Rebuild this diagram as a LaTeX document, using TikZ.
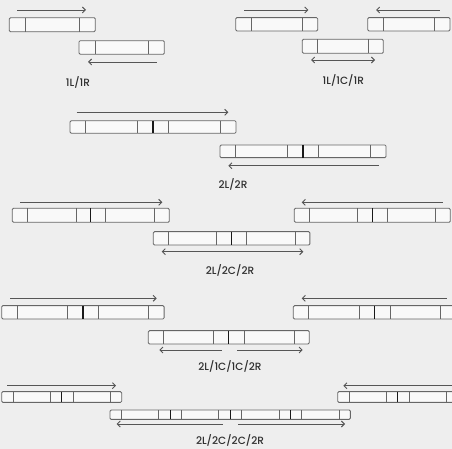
\documentclass[tikz,border=0pt]{standalone}
\usepackage{fontspec}
\newfontfamily\labelfont{Poppins}[UprightFont={* Medium}]
\usetikzlibrary{arrows.meta,calc}

\definecolor{bggray}{HTML}{EEEEEE}
\definecolor{boxfill}{HTML}{F9F9F9}
\definecolor{edgegray}{HTML}{666666}
\definecolor{arrowgray}{HTML}{555555}
\definecolor{textgray}{HTML}{2E2E2E}

% segmented repeat box: name, left x, centre y, units, unit width, height
\newcommand{\repbox}[6]{%
  \node[repbox, minimum width={#4*#5*1pt}, minimum height=#6pt, anchor=west] (#1) at (#2,#3) {};
  \foreach \k in {1,...,#4}{
    \pgfmathsetmacro\xa{#2+(\k-1)*#5+0.19*#5}
    \pgfmathsetmacro\xb{#2+\k*#5-0.19*#5}
    \pgfmathsetmacro\xj{#2+(\k-1)*#5}
    \draw[cut] (\xa,{#3-#6/2}) -- (\xa,{#3+#6/2});
    \draw[cut] (\xb,{#3-#6/2}) -- (\xb,{#3+#6/2});
    \ifnum\k>1 \draw[joint] (\xj,{#3-#6/2}) -- (\xj,{#3+#6/2}); \fi
  }%
}
% direction arrow between two named coordinates: name, x from, x to, y, tips
\newcommand{\dirarrow}[5]{%
  \coordinate (#1s) at (#2,#4);
  \coordinate (#1e) at (#3,#4);
  \draw[arrow, #5] (#1s) -- (#1e);
}

\begin{document}
\begin{tikzpicture}[
  x=1pt, y=-1pt,
  repbox/.style={draw=edgegray, fill=boxfill, line width=0.85pt, rounded corners=1.2pt, inner sep=0pt, outer sep=0pt},
  cut/.style={draw=edgegray, line width=0.75pt},
  joint/.style={draw=black!90, line width=1.2pt},
  arrow/.style={draw=arrowgray, line width=0.9pt},
  fwd/.style={-{Straight Barb[length=3pt,width=6pt]}},
  rev/.style={{Straight Barb[length=3pt,width=6pt]}-},
  both/.style={{Straight Barb[length=3pt,width=6pt]}-{Straight Barb[length=3pt,width=6pt]}},
  caption/.style={font=\labelfont\fontsize{10.5}{12}\selectfont, text=textgray, inner sep=0pt}
]
\fill[bggray] (0,0) rectangle (452,449);
\useasboundingbox (0,0) rectangle (452,449);
\clip (0,0) rectangle (452,449);

% 1L/1R
\repbox{ta}{9.3}{24.7}{1}{86}{14}
\repbox{tb}{79}{47.5}{1}{85.3}{13.6}
\dirarrow{ara}{17}{86}{10}{fwd}
\dirarrow{arb}{88}{156.7}{62}{rev}
\node[caption] (lab1) at (78,82) {1L/1R};

% 1L/1C/1R
\repbox{ua}{235.7}{24.3}{1}{82}{13.3}
\repbox{uc}{367.7}{24.3}{1}{82.3}{13.3}
\repbox{ub}{302.3}{46.3}{1}{81}{14}
\dirarrow{aua}{244}{308.3}{10}{fwd}
\dirarrow{auc}{376}{440}{10}{rev}
\dirarrow{aub}{311}{375}{60}{both}
\node[caption] (lab2) at (343.3,80) {1L/1C/1R};

% 2L/2R
\repbox{va}{70}{127}{2}{83}{12.6}
\repbox{vb}{220}{151.3}{2}{83}{12.7}
\dirarrow{ava}{76.7}{228.3}{112.3}{fwd}
\dirarrow{avb}{228.3}{379.3}{165.7}{rev}
\node[caption] (lab3) at (233,184) {2L/2R};

% 2L/2C/2R
\repbox{wa}{12.3}{215.3}{2}{78.5}{14}
\repbox{wc}{294.3}{215.3}{2}{78}{14}
\repbox{wb}{153.3}{238.3}{2}{78.3}{13.3}
\dirarrow{awa}{20}{162.3}{202.3}{fwd}
\dirarrow{awc}{301.7}{443.3}{202.3}{rev}
\dirarrow{awb}{161.7}{303.3}{251.7}{both}
\node[caption] (lab4) at (230,270) {2L/2C/2R};

% 2L/1C/1C/2R
\repbox{xa}{1.7}{312.3}{2}{81.2}{13.3}
\repbox{xc}{293.3}{312.3}{2}{81.2}{13.3}
\repbox{xb}{148.3}{337.3}{2}{80.5}{13.3}
\dirarrow{axa}{10}{156.7}{298.3}{fwd}
\dirarrow{axc}{301.7}{446.7}{298.3}{rev}
\dirarrow{axl}{159.3}{221.7}{350}{rev}
\dirarrow{axr}{237.3}{302.7}{350}{fwd}
\node[caption] (lab5) at (230,366.7) {2L/1C/1C/2R};

% 2L/2C/2C/2R
\repbox{ya}{1.7}{397}{2}{60}{10.7}
\repbox{yc}{337.7}{397}{2}{60}{10.7}
\repbox{yb}{110}{414.7}{4}{60.1}{9.3}
\dirarrow{aya}{7.3}{116}{385.7}{fwd}
\dirarrow{ayc}{343.3}{455}{385.7}{rev}
\dirarrow{ayl}{116.7}{222.7}{424}{rev}
\dirarrow{ayr}{238.3}{345}{424}{fwd}
\node[caption] (lab6) at (230,440) {2L/2C/2C/2R};
\end{tikzpicture}
\end{document}
